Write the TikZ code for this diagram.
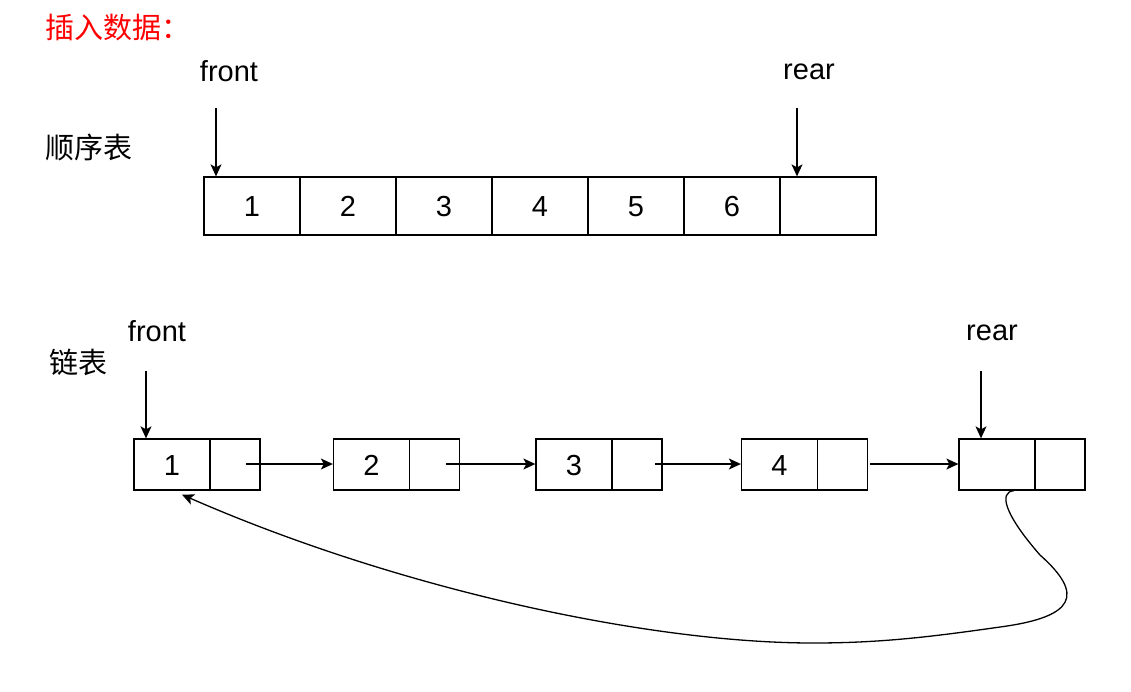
\documentclass[tikz,border=0pt]{standalone}
\usepackage{fontspec}
\setmainfont{Liberation Sans}
\newfontfamily\cjk{Noto Sans CJK SC}
\usetikzlibrary{arrows.meta,calc}
\begin{document}
\begin{tikzpicture}[x=1pt,y=-1pt,
  lbl/.style={inner sep=0pt, font=\fontsize{29}{34}\selectfont},
  cjklbl/.style={inner sep=0pt, anchor=west, font=\cjk\fontsize{29}{34}\selectfont},
  cell/.style={draw, line width=1.3pt, minimum width=96pt, minimum height=58pt, inner sep=0pt, text height=21pt, text depth=0pt, font=\fontsize{29}{34}\selectfont},
  lpart/.style={draw, line width=1.3pt, minimum width=76pt, minimum height=51pt, inner sep=0pt, text height=21pt, text depth=0pt, font=\fontsize{29}{34}\selectfont},
  rpart/.style={draw, line width=1.3pt, minimum width=50pt, minimum height=51pt, inner sep=0pt},
  arr/.style={-{Stealth[length=12pt,width=11pt,inset=3pt]}, line width=1.3pt}]
\useasboundingbox (0,0) rectangle (1131,691);
% title
\node[cjklbl, text=red] (title) at (45,28) {插入数据：};
\node[cjklbl] (seqlbl) at (45,147) {顺序表};
\node[cjklbl] (lnklbl) at (49,362) {链表};
% sequential table
\node[cell] (c1) at (252,206) {1};
\node[cell] (c2) at (348,206) {2};
\node[cell] (c3) at (444,206) {3};
\node[cell] (c4) at (540,206) {4};
\node[cell] (c5) at (636,206) {5};
\node[cell] (c6) at (732,206) {6};
\node[cell] (c7) at (828,206) {};
\node[lbl] (ftop) at (229,71) {front};
\node[lbl] (rtop) at (809,72) {rear};
\coordinate (fa) at (216,108);
\coordinate (ra) at (797,108);
\draw[arr] (fa) -- (fa |- c1.north);
\draw[arr] (ra) -- (ra |- c7.north);
% linked list
\node[lpart] (l1) at (172,464.5) {1};
\node[rpart] (r1) at (235,464.5) {};
\node[lpart] (l2) at (371.5,464.5) {2};
\node[rpart] (r2) at (434.5,464.5) {};
\node[lpart] (l3) at (574,464.5) {3};
\node[rpart] (r3) at (637,464.5) {};
\node[lpart] (l4) at (779.5,464.5) {4};
\node[rpart] (r4) at (842.5,464.5) {};
\node[lpart] (l5) at (997,464.5) {};
\node[rpart] (r5) at (1060,464.5) {};
\draw[arr] ($(r1.center)+(11,-0.5)$) -- ($(l2.west)+(0,-0.5)$);
\draw[arr] ($(r2.center)+(11.5,-0.5)$) -- ($(l3.west)+(0,-0.5)$);
\draw[arr] ($(r3.center)+(18,-0.5)$) -- ($(l4.west)+(0,-0.5)$);
\draw[arr] ($(r4.center)+(27.5,-0.5)$) -- ($(l5.west)+(0,-0.5)$);
\node[lbl] (fbot) at (157,331) {front};
\node[lbl] (rbot) at (992,333) {rear};
\coordinate (fb) at (146,371);
\coordinate (rb) at (981,371);
\draw[arr] (fb) -- (fb |- l1.north);
\draw[arr] (rb) -- (rb |- l5.north);
% loop back
\coordinate (cs) at ($(l5.south)+(17,0)$);
\coordinate (ce) at ($(l1.south)+(10,4)$);
\draw[arr] (cs) .. controls (998,492) and (1005,515) .. (1040,555)
  .. controls (1085,595) and (1075,617) .. (1000,627)
  .. controls (930,637) and (880,643) .. (813,643)
  .. controls (650,643) and (400,590) .. (ce);
\end{tikzpicture}
\end{document}
